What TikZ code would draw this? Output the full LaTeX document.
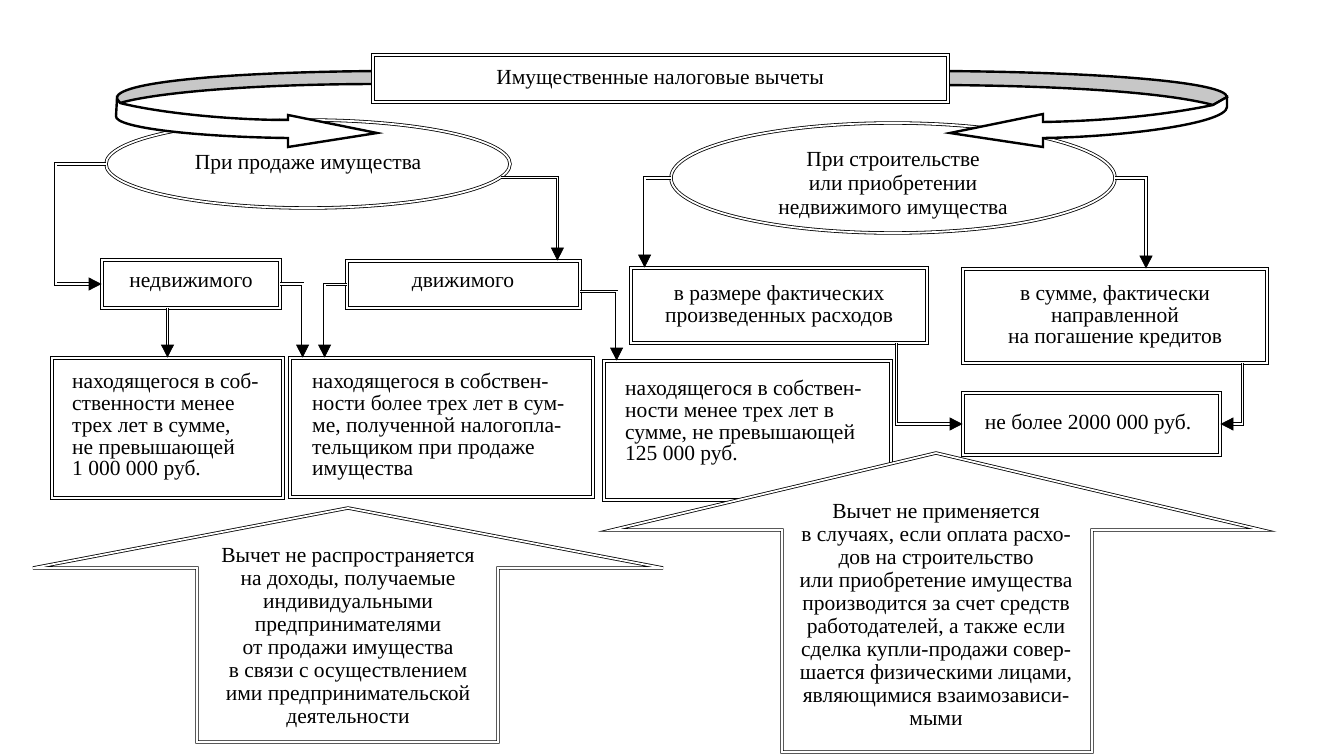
\documentclass[tikz,border=0pt]{standalone}
\usepackage{fontspec}
\setmainfont{Liberation Serif}
\usetikzlibrary{arrows.meta,shapes.geometric}
\begin{document}
\begin{tikzpicture}[x=1pt,y=-1pt,
  dbl/.style={draw=black, line width=0.8pt, double=white, double distance=1.8pt},
  box/.style={dbl, rectangle, fill=white, inner sep=0pt},
  oval/.style={dbl, ellipse, fill=white, inner sep=0pt},
  conn/.style={draw=black, line width=0.8pt, double=white, double distance=1.8pt, -{Triangle[length=13pt,width=13pt]}},
  txt/.style={font=\fontsize{21.5}{21.7}\selectfont, inner sep=0pt},
  htxt/.style={font=\fontsize{21.5}{22.9}\selectfont, inner sep=0pt, align=center},
  ribbon/.style={draw=black, line width=2.4pt, line join=miter},
  band/.style={ribbon, fill=black!22},
]
\useasboundingbox (0,0) rectangle (1323,754);

% ellipses
\node[oval, minimum width=404pt, minimum height=88pt] (e1) at (308,164) {};
\node[txt] (e1t) at (308,165) {При продаже имущества};
\node[oval, minimum width=444pt, minimum height=110pt] (e2) at (893,178) {};
\node[txt, align=center, font=\fontsize{21.5}{24}\selectfont] (e2t) at (893,186) {При строительстве\\или приобретении\\недвижимого имущества};

% ribbon arrows
\filldraw[band] (380,71) .. controls (230,72) and (112,82) .. (117,99) -- (120,103) .. controls (150,94) and (240,84) .. (380,84) -- cycle;
\filldraw[ribbon, fill=white] (120,103) .. controls (160,113) and (230,120) .. (288,120) -- (288,115) -- (377,133) -- (288,147) -- (288,138) .. controls (200,137) and (114,128) .. (116,116) -- (117,99) -- cycle;
\filldraw[band] (940,71) .. controls (1100,72) and (1226,82) .. (1227,97) -- (1213,105) .. controls (1180,96) and (1100,86) .. (940,85) -- cycle;
\filldraw[ribbon, fill=white] (1213,105) .. controls (1160,116) and (1100,121) .. (1043,122) -- (1043,114) -- (950,133) -- (1043,147) -- (1043,138) .. controls (1120,137) and (1226,124) .. (1227,107) -- (1227,97) -- cycle;

% title
\node[box, minimum width=575pt, minimum height=47pt] (T) at (660.5,78.5) {};
\node[txt] (Tt) at (660,80) {Имущественные налоговые вычеты};

% second level
\node[box, minimum width=178pt, minimum height=48pt] (nd) at (191,284) {};
\node[txt] (ndt) at (191,285) {недвижимого};
\node[box, minimum width=233pt, minimum height=47pt] (dv) at (463.5,284.5) {};
\node[txt] (dvt) at (463,285) {движимого};
\node[box, minimum width=296pt, minimum height=75pt] (rz) at (779,305.5) {};
\node[txt, align=center] (rzt) at (779,306) {в размере фактических\\произведенных расходов};
\node[box, minimum width=304pt, minimum height=94pt] (sm) at (1115,316) {};
\node[txt, align=center] (smt) at (1115,317) {в сумме, фактически\\направленной\\на погашение кредитов};

% third level
\node[box, minimum width=231pt, minimum height=140pt] (b1) at (167.5,428) {};
\node[txt, align=left, anchor=west] (b1t) at (72,427) {находящегося в соб-\\ственности менее\\трех лет в сумме,\\не превышающей\\1 000 000 руб.};
\node[box, minimum width=303pt, minimum height=139pt] (b2) at (441.5,427.5) {};
\node[txt, align=left, anchor=west] (b2t) at (312,427) {находящегося в собствен-\\ности более трех лет в сум-\\ме, полученной налогопла-\\тельщиком при продаже\\имущества};
\node[box, minimum width=287pt, minimum height=139pt] (b3) at (747.5,430.5) {};
\node[txt, align=left, anchor=west] (b3t) at (625,423) {находящегося в собствен-\\ности менее трех лет в\\сумме, не превышающей\\125 000 руб.};
\node[box, minimum width=257pt, minimum height=62pt] (nb) at (1091.5,424) {};
\node[txt] (nbt) at (1088,424) {не более 2000 000 руб.};

% connector entry points
\coordinate (dvin) at ([xshift=-23pt]dv.north east);
\coordinate (rzin) at ([xshift=14pt]rz.north west);
\coordinate (smin) at ([xshift=31pt]sm.north);
\coordinate (b2ina) at ([xshift=13pt]b2.north west);
\coordinate (b2inb) at ([xshift=35pt]b2.north west);
\coordinate (b3in) at ([xshift=13pt]b3.north west);
\coordinate (rzout) at ([xshift=-31pt]rz.south east);
\coordinate (smout) at ([xshift=-25pt]sm.south east);

% connectors
\draw[conn] (e1.west) -- ++(-50,0) |- (nd.west);
\draw[conn] (e1.-4) -| (dvin);
\draw[conn] (e2.west) -| (rzin);
\draw[conn] (e2.east) -| (smin);
\draw[conn] (nd.south -| b1.north) -- (b1.north);
\draw[conn] (nd.east) -| (b2ina);
\draw[conn] (dv.west) -| (b2inb);
\draw[conn] ([yshift=-7pt]dv.east) -| (b3in);
\draw[conn] (rzout) |- (nb.west);
\draw[conn] (smout) |- (nb.east);

% house arrows
\draw[dbl, fill=white] (197,742) -- (197,568) -- (33,568) -- (348,508) -- (663,568) -- (498,568) -- (498,742) -- cycle;
\node[htxt] (h1t) at (348,638) {Вычет не распространяется\\на доходы, получаемые\\индивидуальными\\предпринимателями\\от продажи имущества\\в связи с осуществлением\\ими предпринимательской\\деятельности};
\draw[dbl, fill=white] (782,752) -- (782,530) -- (612,530) -- (936,453) -- (1262,530) -- (1092,530) -- (1092,752) -- cycle;
\node[htxt] (h2t) at (936,615) {Вычет не применяется\\в случаях, если оплата расхо-\\дов на строительство\\или приобретение имущества\\производится за счет средств\\работодателей, а также если\\сделка купли-продажи совер-\\шается физическими лицами,\\являющимися взаимозависи-\\мыми};
\end{tikzpicture}
\end{document}
